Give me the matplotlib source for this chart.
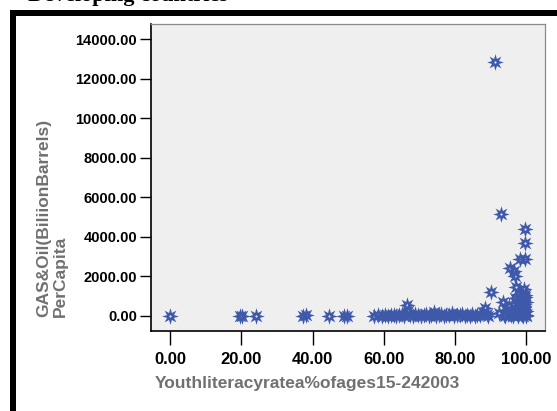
import numpy as np
import matplotlib
matplotlib.use("Agg")
import matplotlib.pyplot as plt
from matplotlib.path import Path
from matplotlib.patches import Rectangle

# youth literacy rate (% of ages 15-24, 2003) vs gas & oil per capita
literacy = [
    0.0, 19.5, 20.3, 24.2, 37.2, 38.1, 44.5, 48.9, 49.8,
    57.2, 58.5, 59.6, 60.4, 61.3, 62.0, 62.8, 63.5, 64.3, 65.0,
    65.6, 66.5, 66.8, 67.4, 68.1, 68.9, 69.6, 70.4, 71.2, 71.9,
    72.6, 73.3, 74.0, 74.7, 75.4, 76.2, 76.9, 77.6, 78.3, 79.1,
    79.8, 80.5, 81.3, 82.0, 82.7, 83.4, 84.2, 84.9, 85.6, 86.3,
    87.0, 87.8, 88.5, 88.9, 89.4, 90.1,
    91.3, 93.0, 93.5, 92.5, 93.8, 94.3, 94.8, 95.2, 95.6, 96.0,
    96.3, 96.6, 96.9, 97.0, 97.2, 97.4, 97.6, 97.9, 98.1, 98.3,
    98.4, 98.6, 98.8, 99.0, 99.1, 99.2, 99.4, 99.5, 99.6, 99.7,
    99.8, 99.8, 99.9, 100.0, 100.0, 99.3, 98.0, 95.8, 94.0, 97.8,
    99.0, 100.0, 99.7, 98.9, 99.5, 96.8,
]
gas_oil = [
    15, 10, 20, 12, 8, 25, 10, 18, 5,
    5, 30, 12, 40, 8, 25, 60, 10, 35, 80,
    20, 560, 230, 50, 15, 90, 30, 10, 45, 120,
    20, 70, 180, 5, 40, 110, 15, 60, 25, 140,
    10, 50, 30, 90, 8, 40, 20, 110, 15, 60,
    30, 200, 400, 90, 20, 1230,
    12830, 5150, 720, 150, 40, 300, 80, 500, 2400, 150,
    20, 2250, 2020, 900, 1460, 300, 60, 650, 1100, 2860,
    200, 450, 30, 800, 1000, 120, 600, 350, 4380, 3670,
    2880, 950, 50, 700, 250, 1350, 400, 60, 10, 10,
    15, 5, 1060, 520, 180, 420,
]

x_ticks = [0, 20, 40, 60, 80, 100]
y_ticks = [0, 2000, 4000, 6000, 8000, 10000, 12000, 14000]

LABEL_GRAY = "#707070"
STAR_BLUE = "#3F59AA"


def star_marker(points=8, inner=0.45, hole=0.13):
    """8 spike star with a small open centre"""
    ang = np.pi / 2 + np.arange(points * 2) * np.pi / points
    rad = np.where(np.arange(points * 2) % 2 == 0, 1.0, inner)
    outer = np.column_stack([rad * np.cos(ang), rad * np.sin(ang)])
    # hole goes the other way round so it stays empty
    ha = np.pi / 2 - np.arange(12) * np.pi / 6
    inner_ring = np.column_stack([hole * np.cos(ha), hole * np.sin(ha)])
    verts = np.vstack([outer, outer[:1], inner_ring, inner_ring[:1]])
    codes = ([Path.MOVETO] + [Path.LINETO] * (len(outer) - 1) + [Path.CLOSEPOLY]
             + [Path.MOVETO] + [Path.LINETO] * (len(inner_ring) - 1) + [Path.CLOSEPOLY])
    return Path(verts, codes)


W, H = 557, 411
fig = plt.figure(figsize=(W / 100, H / 100), dpi=100)
fig.patch.set_facecolor("white")

ax = fig.add_axes([151 / W, 1 - 331 / H, (545 - 151) / W, (331 - 24) / H])
ax.set_facecolor("#EFEFEF")

ax.plot(literacy, gas_oil, linestyle="none", marker=star_marker(),
        markersize=12, color=STAR_BLUE, markeredgewidth=0)

ax.set_xlim(-5.4, 105.3)
ax.set_ylim(-760, 14760)
ax.set_xticks(x_ticks)
ax.set_yticks(y_ticks)
ax.set_xticklabels(["%.2f" % v for v in x_ticks], fontsize=12,
                   fontweight="bold", family="Liberation Sans")
ax.set_yticklabels(["%.2f" % v for v in y_ticks], fontsize=10.5,
                   fontweight="bold", family="Liberation Sans")
ax.tick_params(axis="x", length=10, width=1, pad=5, color="black")
ax.tick_params(axis="y", length=8, width=1, pad=2, color="black")

for side in ("left", "bottom"):
    ax.spines[side].set_color("black")
    ax.spines[side].set_linewidth(1.2)
for side in ("top", "right"):
    ax.spines[side].set_color("#8a8a8a")
    ax.spines[side].set_linewidth(0.9)

# axis titles
fig.text(52 / W, 1 - 317 / H, "GAS&Oil(BiliionBarrels)\nPerCapita",
         rotation=90, ha="center", va="bottom", multialignment="left",
         linespacing=1.1, fontsize=12.5, fontweight="bold",
         family="Liberation Sans", color=LABEL_GRAY)
fig.text(155 / W, 1 - 383 / H, "Youthliteracyratea%ofages15-242003",
         ha="left", va="center", fontsize=12.5, fontweight="bold",
         family="Liberation Sans", color=LABEL_GRAY)

# heading, mostly above the top edge
fig.text(28 / W, 1 - 1.5 / H, "Developing countries", ha="left",
         va="baseline", fontsize=16, fontweight="bold",
         family="Liberation Serif", color="black")

# thick black frame on the left and top
fig.add_artist(Rectangle((10 / W, 0), 6 / W, (H - 10) / H,
                         transform=fig.transFigure, color="black", lw=0))
fig.add_artist(Rectangle((10 / W, 1 - 16 / H), (W - 10) / W, 6 / H,
                         transform=fig.transFigure, color="black", lw=0))

fig.savefig("out.png", dpi=100)
